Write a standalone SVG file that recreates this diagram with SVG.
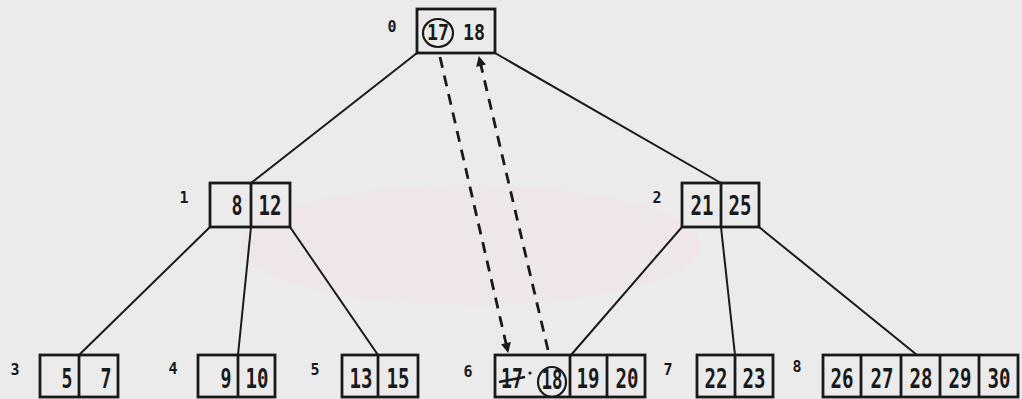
<svg xmlns="http://www.w3.org/2000/svg" width="1022" height="399" viewBox="0 0 1022 399">
<defs>
<style>
.bg{fill:#ebebeb}
.box{fill:none;stroke:#1a1a1a;stroke-width:2.8}
.edge{stroke:#1a1a1a;stroke-width:2;fill:none}
.dash{stroke:#1a1a1a;stroke-width:2.8;fill:none;stroke-dasharray:11 8}
.k{font-family:"DejaVu Sans Mono","Liberation Mono",monospace;font-weight:bold;font-size:26px;fill:#1a1a1a;text-anchor:middle}
.r{font-size:22px}
.lbl{font-family:"DejaVu Sans Mono","Liberation Mono",monospace;font-weight:bold;font-size:15px;fill:#1a1a1a;text-anchor:middle}
.ring{fill:none;stroke:#1a1a1a;stroke-width:2.2}
</style>
<marker id="ah" viewBox="0 0 10 10" refX="9" refY="5" markerWidth="11" markerHeight="10" orient="auto" markerUnits="userSpaceOnUse">
<path d="M0,0 L10,5 L0,10 z" fill="#1a1a1a"/>
</marker>
</defs>
<rect class="bg" x="0" y="0" width="1022" height="399"/>
<ellipse cx="470" cy="245" rx="230" ry="60" fill="#f1dfe6" opacity="0.45"/>

<g id="connectors">
<line class="edge" x1="417" y1="53" x2="251" y2="183"/>
<line class="edge" x1="495" y1="53" x2="721" y2="183"/>
<line class="edge" x1="210" y1="227" x2="79" y2="355"/>
<line class="edge" x1="251" y1="227" x2="238" y2="355"/>
<line class="edge" x1="290" y1="227" x2="378" y2="355"/>
<line class="edge" x1="682" y1="227" x2="571" y2="355"/>
<line class="edge" x1="721" y1="227" x2="735" y2="355"/>
<line class="edge" x1="759" y1="227" x2="917" y2="355"/>
<line class="dash" x1="440" y1="57" x2="508" y2="352" marker-end="url(#ah)"/>
<line class="dash" x1="548" y1="350" x2="479" y2="57" marker-end="url(#ah)"/>
</g>

<g id="node0">
<rect class="box" x="417" y="9" width="78" height="44"/>
<ellipse class="ring" cx="438" cy="33" rx="15" ry="14"/>
<text class="k r" x="438" y="40" textLength="22" lengthAdjust="spacingAndGlyphs">17</text>
<text class="k r" x="474" y="40" textLength="22" lengthAdjust="spacingAndGlyphs">18</text>
<text class="lbl" x="392" y="32">0</text>
</g>

<g id="node1">
<rect class="box" x="210" y="183" width="80" height="44"/>
<line class="box" x1="251" y1="183" x2="251" y2="227"/>
<text class="k" x="237" y="215" textLength="11" lengthAdjust="spacingAndGlyphs">8</text>
<text class="k" x="270" y="215" textLength="23" lengthAdjust="spacingAndGlyphs">12</text>
<text class="lbl" x="184" y="203">1</text>
</g>

<g id="node2">
<rect class="box" x="682" y="183" width="77" height="44"/>
<line class="box" x1="721" y1="183" x2="721" y2="227"/>
<text class="k" x="702" y="215" textLength="23" lengthAdjust="spacingAndGlyphs">21</text>
<text class="k" x="740" y="215" textLength="23" lengthAdjust="spacingAndGlyphs">25</text>
<text class="lbl" x="657" y="203">2</text>
</g>

<g id="node3">
<rect class="box" x="40" y="355" width="78" height="42"/>
<line class="box" x1="79" y1="355" x2="79" y2="397"/>
<text class="k" x="67" y="388" textLength="11" lengthAdjust="spacingAndGlyphs">5</text>
<text class="k" x="106" y="388" textLength="11" lengthAdjust="spacingAndGlyphs">7</text>
<text class="lbl" x="15" y="375">3</text>
</g>

<g id="node4">
<rect class="box" x="198" y="355" width="77" height="42"/>
<line class="box" x1="238" y1="355" x2="238" y2="397"/>
<text class="k" x="226" y="388" textLength="11" lengthAdjust="spacingAndGlyphs">9</text>
<text class="k" x="257" y="388" textLength="23" lengthAdjust="spacingAndGlyphs">10</text>
<text class="lbl" x="173" y="374">4</text>
</g>

<g id="node5">
<rect class="box" x="342" y="355" width="76" height="42"/>
<line class="box" x1="378" y1="355" x2="378" y2="397"/>
<text class="k" x="361" y="388" textLength="23" lengthAdjust="spacingAndGlyphs">13</text>
<text class="k" x="398" y="388" textLength="23" lengthAdjust="spacingAndGlyphs">15</text>
<text class="lbl" x="315" y="375">5</text>
</g>

<g id="node6">
<rect class="box" x="495" y="355" width="150" height="42"/>
<line class="box" x1="570" y1="355" x2="570" y2="397"/>
<line class="box" x1="607" y1="355" x2="607" y2="397"/>
<text class="k" x="512" y="388" textLength="22" lengthAdjust="spacingAndGlyphs">17</text>
<line class="edge" style="stroke-width:2.6" x1="499" y1="382" x2="525" y2="377"/>
<circle cx="530" cy="373" r="1.6" fill="#1a1a1a"/>
<ellipse class="ring" cx="552" cy="382" rx="14" ry="15"/>
<text class="k" x="552" y="389" textLength="21" lengthAdjust="spacingAndGlyphs">18</text>
<text class="k" x="588" y="388" textLength="23" lengthAdjust="spacingAndGlyphs">19</text>
<text class="k" x="627" y="388" textLength="23" lengthAdjust="spacingAndGlyphs">20</text>
<text class="lbl" x="468" y="377">6</text>
</g>

<g id="node7">
<rect class="box" x="697" y="355" width="76" height="42"/>
<line class="box" x1="735" y1="355" x2="735" y2="397"/>
<text class="k" x="716" y="388" textLength="23" lengthAdjust="spacingAndGlyphs">22</text>
<text class="k" x="754" y="388" textLength="23" lengthAdjust="spacingAndGlyphs">23</text>
<text class="lbl" x="668" y="375">7</text>
</g>

<g id="node8">
<rect class="box" x="823" y="355" width="195" height="42"/>
<line class="box" x1="861" y1="355" x2="861" y2="397"/>
<line class="box" x1="901" y1="355" x2="901" y2="397"/>
<line class="box" x1="940" y1="355" x2="940" y2="397"/>
<line class="box" x1="979" y1="355" x2="979" y2="397"/>
<text class="k" x="842" y="388" textLength="23" lengthAdjust="spacingAndGlyphs">26</text>
<text class="k" x="882" y="388" textLength="23" lengthAdjust="spacingAndGlyphs">27</text>
<text class="k" x="921" y="388" textLength="23" lengthAdjust="spacingAndGlyphs">28</text>
<text class="k" x="960" y="388" textLength="23" lengthAdjust="spacingAndGlyphs">29</text>
<text class="k" x="999" y="388" textLength="23" lengthAdjust="spacingAndGlyphs">30</text>
<text class="lbl" x="797" y="372">8</text>
</g>
</svg>
